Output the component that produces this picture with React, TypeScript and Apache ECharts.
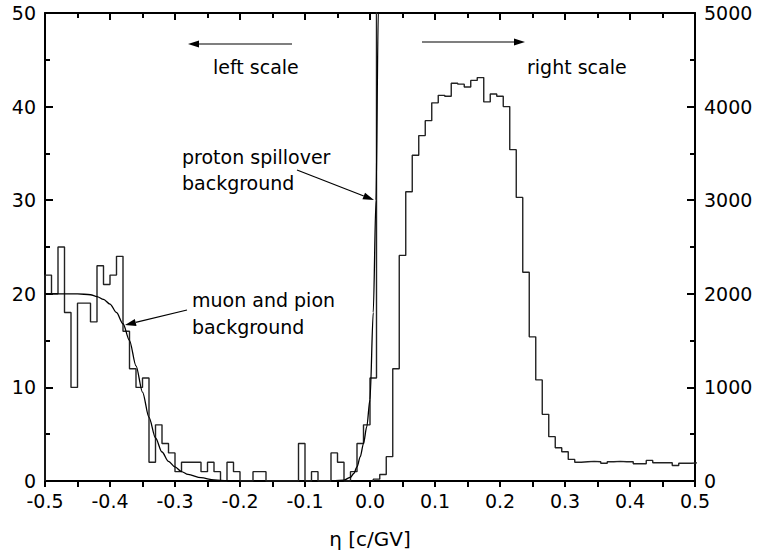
import React, { useEffect, useRef } from "react";
import * as echarts from "echarts";

// Histogram on the left scale (bins of 0.01 starting at -0.50)
const LEFT_BIN_START = -0.5;
const BIN_WIDTH = 0.01;
const leftCounts = [
  22, 20, 25, 18, 10, 19, 19, 17, 23, 21, 22, 24, 16, 12, 10, 11, 2, 6, 4, 3,
  1, 2, 2, 2, 1, 2, 1, 0, 2, 1, 0, 0, 1, 1, 0, 0, 0, 0, 0, 4, 0, 1, 0, 0, 3, 2,
  0, 1, 4, 6, 11, 300,
];

// Histogram on the right scale (bins of 0.01 starting at 0.005)
const RIGHT_BIN_START = 0.005;
const rightCounts = [
  20, 70, 260, 1200, 2410, 3090, 3480, 3690, 3850, 4040, 4120, 4110, 4250, 4240,
  4210, 4280, 4310, 4050, 4135, 4110, 4000, 3540, 3030, 2230, 1540, 1080, 712,
  474, 356, 313, 231, 200, 205, 210, 205, 190, 205, 210, 205, 205, 185, 185, 220,
  195, 195, 195, 165, 190, 190, 195,
];

// Fitted background curves
const muonEta = [-0.5, -0.45, -0.43, -0.42, -0.41, -0.4, -0.39, -0.38, -0.37, -0.36, -0.35, -0.34, -0.33, -0.32, -0.31, -0.3, -0.29, -0.28, -0.26, -0.24, -0.22, -0.2];
const muonVal = [20, 20, 19.9, 19.7, 19.4, 18.9, 18.0, 16.8, 15.0, 12.3, 9.5, 6.8, 4.6, 3.1, 2.1, 1.5, 1.0, 0.7, 0.35, 0.12, 0.03, 0];

const protonEta = [-0.06, -0.04, -0.03, -0.025, -0.02, -0.015, -0.01, -0.005, 0, 0.005, 0.0092, 0.0128, 0.016];
const protonVal = [0, 0.1, 0.4, 0.8, 1.5, 2.6, 4.0, 5.8, 8.7, 18, 30, 50, 75];

const xTicks = [-0.5, -0.4, -0.3, -0.2, -0.1, 0, 0.1, 0.2, 0.3, 0.4, 0.5];
const leftTicks = [0, 10, 20, 30, 40, 50];
const rightTicks = [0, 1000, 2000, 3000, 4000, 5000];

const FONT = "DejaVu Sans";

function stepData(start: number, width: number, counts: number[]) {
  const pts: number[][] = [[start, 0]];
  counts.forEach((v, i) => pts.push([+(start + i * width).toFixed(4), v]));
  const end = +(start + counts.length * width).toFixed(4);
  pts.push([end, counts[counts.length - 1]]);
  return pts;
}

function arrow(x1: number, y1: number, x2: number, y2: number, headLen = 11, headHalf = 3.6) {
  const dx = x2 - x1;
  const dy = y2 - y1;
  const L = Math.sqrt(dx * dx + dy * dy);
  const ux = dx / L;
  const uy = dy / L;
  const bx = x2 - ux * headLen;
  const by = y2 - uy * headLen;
  const px = -uy;
  const py = ux;
  return [
    {
      type: "line",
      shape: { x1, y1, x2: bx, y2: by },
      style: { stroke: "#000", lineWidth: 1.2 },
    },
    {
      type: "polygon",
      shape: {
        points: [
          [x2, y2],
          [bx + px * headHalf, by + py * headHalf],
          [bx - px * headHalf, by - py * headHalf],
        ],
      },
      style: { fill: "#000" },
    },
  ];
}

function label(text: string, x: number, y: number) {
  return {
    type: "text",
    x,
    y,
    style: {
      text,
      fill: "#000",
      font: `19px "${FONT}"`,
      textAlign: "left",
      textVerticalAlign: "middle",
    },
  };
}

export default function App() {
  const ref = useRef<HTMLDivElement>(null);

  useEffect(() => {
    if (!ref.current) return;
    const chart = echarts.init(ref.current, undefined, { renderer: "svg" });

    const axisLine = { show: true, onZero: false, lineStyle: { color: "#000", width: 2 } };
    const labelStyle = { color: "#000", fontSize: 19, fontFamily: FONT };

    const xCommon = {
      type: "value",
      min: xTicks[0],
      max: xTicks[xTicks.length - 1],
      interval: 0.1,
      splitLine: { show: false },
      axisLine,
    };

    const option: any = {
      animation: false,
      backgroundColor: "#fff",
      textStyle: { fontFamily: FONT },
      grid: { left: 45, right: 80, top: 13, bottom: 79 },
      xAxis: [
        {
          ...xCommon,
          position: "bottom",
          axisTick: { show: true, inside: false, length: 6, lineStyle: { color: "#000", width: 2 } },
          minorTick: { show: true, splitNumber: 2, length: 6, lineStyle: { color: "#000", width: 2 } },
          axisLabel: {
            ...labelStyle,
            margin: 10,
            formatter: (v: number) => v.toFixed(1),
          },
          name: "η [c/GV]",
          nameLocation: "middle",
          nameGap: 48,
          nameTextStyle: { color: "#000", fontSize: 20, fontFamily: FONT },
        },
        {
          ...xCommon,
          position: "top",
          axisTick: { show: true, inside: true, length: 7, lineStyle: { color: "#000", width: 2 } },
          minorTick: { show: true, splitNumber: 2, length: 5, lineStyle: { color: "#000", width: 2 } },
          axisLabel: { show: false },
        },
      ],
      yAxis: [
        {
          type: "value",
          position: "left",
          min: leftTicks[0],
          max: leftTicks[leftTicks.length - 1],
          interval: 10,
          splitLine: { show: false },
          axisLine,
          axisTick: { show: true, inside: true, length: 8, lineStyle: { color: "#000", width: 2 } },
          minorTick: { show: true, splitNumber: 2, length: 5, lineStyle: { color: "#000", width: 2 } },
          axisLabel: { ...labelStyle, margin: 9, formatter: (v: number) => String(v) },
        },
        {
          type: "value",
          position: "right",
          min: rightTicks[0],
          max: rightTicks[rightTicks.length - 1],
          interval: 1000,
          splitLine: { show: false },
          axisLine,
          axisTick: { show: true, inside: true, length: 8, lineStyle: { color: "#000", width: 2 } },
          minorTick: { show: true, splitNumber: 2, length: 5, lineStyle: { color: "#000", width: 2 } },
          axisLabel: { ...labelStyle, margin: 9, formatter: (v: number) => String(v) },
        },
      ],
      series: [
        {
          type: "line",
          name: "left histogram",
          xAxisIndex: 0,
          yAxisIndex: 0,
          step: "end",
          symbol: "none",
          clip: true,
          data: stepData(LEFT_BIN_START, BIN_WIDTH, leftCounts),
          lineStyle: { color: "#222", width: 1.4 },
        },
        {
          type: "line",
          name: "right histogram",
          xAxisIndex: 0,
          yAxisIndex: 1,
          step: "end",
          symbol: "none",
          clip: true,
          data: stepData(RIGHT_BIN_START, BIN_WIDTH, rightCounts),
          lineStyle: { color: "#222", width: 1.4 },
        },
        {
          type: "line",
          name: "muon and pion background",
          xAxisIndex: 0,
          yAxisIndex: 0,
          smooth: 0.3,
          smoothMonotone: "x",
          symbol: "none",
          clip: true,
          data: muonEta.map((x, i) => [x, muonVal[i]]),
          lineStyle: { color: "#000", width: 1.3 },
        },
        {
          type: "line",
          name: "proton spillover background",
          xAxisIndex: 0,
          yAxisIndex: 0,
          smooth: 0.3,
          smoothMonotone: "x",
          symbol: "none",
          clip: true,
          data: protonEta.map((x, i) => [x, protonVal[i]]),
          lineStyle: { color: "#000", width: 1.3 },
        },
      ],
      graphic: [
        ...arrow(292, 44, 188, 44),
        label("left scale", 213, 67),
        ...arrow(422, 42, 525, 42),
        label("right scale", 527, 67),
        label("proton spillover", 182, 157),
        label("background", 182, 183),
        ...arrow(297, 170, 374, 200),
        label("muon and pion", 192, 300),
        label("background", 192, 327),
        ...arrow(187, 310, 125, 325),
      ],
    };

    chart.setOption(option);
    return () => chart.dispose();
  }, []);

  return (
    <div
      ref={ref}
      style={{ position: "fixed", left: 0, top: 0, width: 775, height: 560, background: "#fff" }}
    />
  );
}
